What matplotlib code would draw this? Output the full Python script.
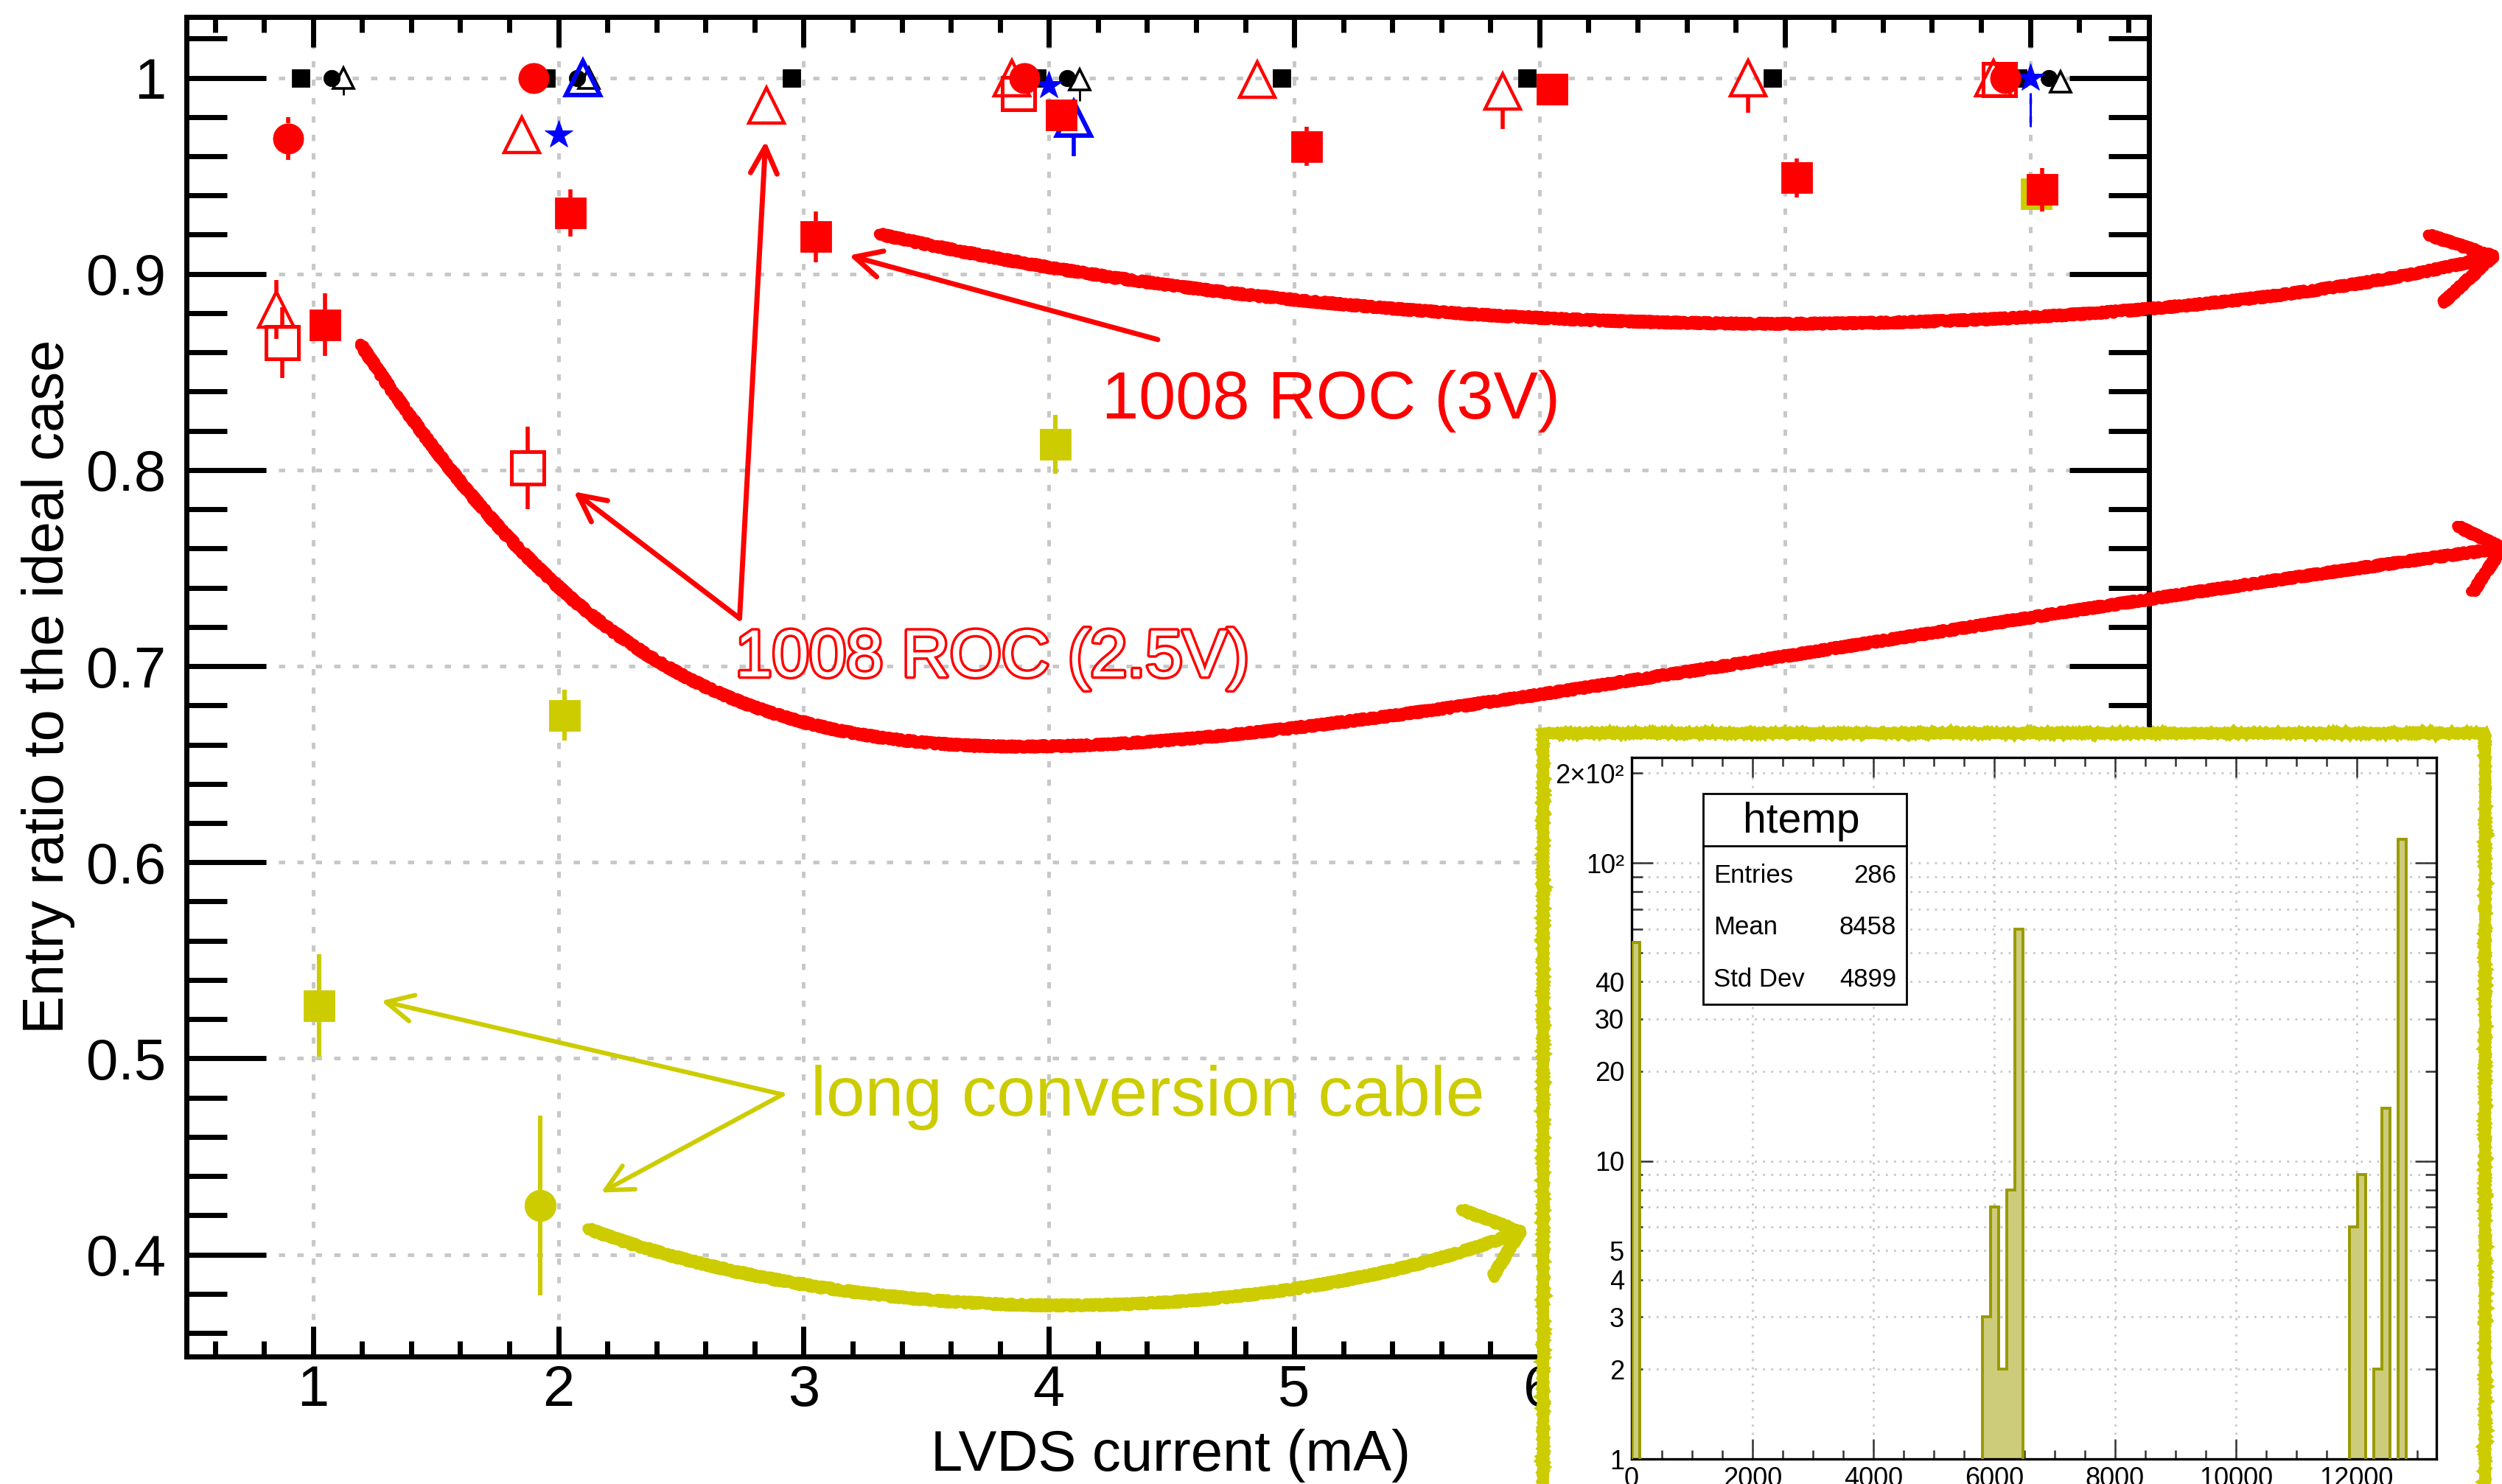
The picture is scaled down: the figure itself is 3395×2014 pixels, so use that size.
import matplotlib
matplotlib.use("Agg")
import matplotlib.pyplot as plt
import matplotlib.patheffects as pe
import numpy as np
from matplotlib.patches import Rectangle, PathPatch
from matplotlib.path import Path
from matplotlib.ticker import MultipleLocator, FixedLocator, FuncFormatter

plt.rcParams['font.family'] = ['Liberation Sans', 'DejaVu Sans']

# entry ratio to the ideal case vs LVDS current (mA); errors are (down, up)
# black: reference runs
ref_sq_x = [0.95, 1.95, 2.95, 3.95, 4.95, 5.95, 6.95, 7.95]
ref_sq_y = [1.0, 1.0, 1.0, 1.0, 1.0, 1.0, 1.0, 1.0]
ref_sq_lo = [0.003, 0.003, 0.003, 0.003, 0.003, 0.003, 0.003, 0.003]
ref_sq_hi = [0.0, 0.0, 0.0, 0.0, 0.0, 0.0, 0.0, 0.0]
ref_dot_x = [1.075, 2.075, 4.075, 8.075]
ref_dot_y = [1.0, 1.0, 1.0, 1.0]
ref_dot_lo = [0.0, 0.0, 0.0, 0.0]
ref_dot_hi = [0.0, 0.0, 0.0, 0.0]
ref_tri_x = [1.125, 2.125, 4.125, 8.125]
ref_tri_y = [1.0, 1.0, 0.999, 0.998]
ref_tri_lo = [0.009, 0.004, 0.011, 0.0]
ref_tri_hi = [0.0, 0.0, 0.0, 0.0]

# red: 1008 ROC
roc3_x = [1.05, 2.05, 3.05, 4.05, 5.05, 6.05, 7.05, 8.05]
roc3_y = [0.874, 0.931, 0.919, 0.981, 0.965, 0.994, 0.949, 0.943]
roc3_lo = [0.016, 0.012, 0.013, 0.006, 0.010, 0.003, 0.010, 0.011]
roc3_hi = [0.016, 0.012, 0.013, 0.006, 0.010, 0.003, 0.010, 0.011]
roc25_x = [0.875, 1.875, 3.875, 7.875]
roc25_y = [0.865, 0.801, 0.992, 0.999]
roc25_lo = [0.018, 0.021, 0.004, 0.003]
roc25_hi = [0.018, 0.021, 0.004, 0.001]
roc_tri_x = [0.85, 1.85, 2.85, 3.85, 4.85, 5.85, 6.85, 7.85]
roc_tri_y = [0.882, 0.971, 0.986, 1.0, 0.999, 0.993, 1.0, 1.0]
roc_tri_lo = [0.015, 0.0, 0.0, 0.0, 0.0, 0.019, 0.018, 0.0]
roc_tri_hi = [0.015, 0.0, 0.0, 0.0, 0.0, 0.005, 0.0, 0.0]
roc_dot_x = [0.9, 1.9, 3.9, 7.9]
roc_dot_y = [0.969, 1.0, 1.0, 1.0]
roc_dot_lo = [0.011, 0.003, 0.003, 0.003]
roc_dot_hi = [0.011, 0.0, 0.0, 0.0]

# blue
blue_star_x = [2.0, 4.0, 8.0]
blue_star_y = [0.971, 0.996, 1.0]
blue_star_lo = [0.007, 0.004, 0.025]
blue_star_hi = [0.007, 0.004, 0.0]
blue_tri_x = [2.1, 4.1]
blue_tri_y = [1.0, 0.979]
blue_tri_lo = [0.0, 0.019]
blue_tri_hi = [0.0, 0.008]

# yellow: long conversion cable
cable_sq_x = [1.025, 2.025, 4.025, 8.025]
cable_sq_y = [0.527, 0.675, 0.813, 0.941]
cable_sq_lo = [0.026, 0.013, 0.015, 0.006]
cable_sq_hi = [0.026, 0.013, 0.015, 0.006]
cable_dot_x = [1.925]
cable_dot_y = [0.425]
cable_dot_lo = [0.046]
cable_dot_hi = [0.046]

# inset histogram (htemp)
hist_nbins = 100
hist_bin_width = 135
hist_bins = [0, 43, 44, 45, 46, 47, 88, 89, 91, 92, 94]
hist_counts = [54, 3, 7, 2, 8, 60, 6, 9, 2, 15, 120]
stat_names = ['Entries', 'Mean', 'Std Dev']
stat_values = ['286', '8458', '4899']

RED = '#ff0000'
BLUE = '#0000ff'
YEL = '#cccc00'
W, H = 3395, 2014

fig = plt.figure(figsize=(W / 200, H / 200), dpi=200)
fig.patch.set_facecolor('white')
ax = fig.add_axes([253 / W, 1 - 1841 / H, 2663 / W, 1818 / H])
ax.set_xlim(0.484, 8.485)
ax.set_ylim(0.348, 1.031)

ax.xaxis.set_major_locator(MultipleLocator(1))
ax.xaxis.set_minor_locator(MultipleLocator(0.2))
ax.yaxis.set_major_locator(MultipleLocator(0.1))
ax.yaxis.set_minor_locator(MultipleLocator(0.02))
fmt = FuncFormatter(lambda v, p: f'{v:g}')
ax.xaxis.set_major_formatter(fmt)
ax.yaxis.set_major_formatter(fmt)
ax.tick_params(which='both', direction='in', top=True, right=True, width=2.5, labelsize=28)
ax.tick_params(axis='x', which='major', length=14.8, pad=3.5)
ax.tick_params(axis='x', which='minor', length=7.5)
ax.tick_params(axis='y', which='major', length=39, pad=10)
ax.tick_params(axis='y', which='minor', length=19.8)
for s in ax.spines.values():
    s.set_linewidth(2.5)
ax.set_axisbelow(True)
ax.grid(True, which='major', color='#c8c8c8', lw=1.8, ls=(0, (1.7, 3.3)))

ax_h = ax.get_window_extent().height
px_to_y = (ax.get_ylim()[1] - ax.get_ylim()[0]) / ax_h


def points(x, y, lo, hi, marker, ms, color, filled, mew, elw, z):
    # ROOT style: the error bar stops at the marker edge
    gap = ms / 2 * fig.dpi / 72 * px_to_y
    for xi, yi, el, eh in zip(x, y, lo, hi):
        if eh > gap:
            ax.vlines(xi, yi + gap, yi + eh, color=color, lw=elw, zorder=z)
        if el > gap:
            ax.vlines(xi, yi - el, yi - gap, color=color, lw=elw, zorder=z)
    ax.plot(x, y, ls='none', marker=marker, ms=ms, mec=color,
            mfc=color if filled else 'none', mew=mew, zorder=z)


points(ref_sq_x, ref_sq_y, ref_sq_lo, ref_sq_hi, 's', 8.3, 'black', True, 0.3, 1.0, 3)
points(ref_dot_x, ref_dot_y, ref_dot_lo, ref_dot_hi, 'o', 8, 'black', True, 0.3, 1.0, 3.1)
points(ref_tri_x, ref_tri_y, ref_tri_lo, ref_tri_hi, '^', 10, 'black', False, 1.3, 1.0, 3.2)
points(cable_sq_x, cable_sq_y, cable_sq_lo, cable_sq_hi, 's', 15, YEL, True, 0.3, 2.2, 4)
points(cable_dot_x, cable_dot_y, cable_dot_lo, cable_dot_hi, 'o', 15.3, YEL, True, 0.3, 2.2, 4)
points(blue_tri_x, blue_tri_y, blue_tri_lo, blue_tri_hi, '^', 16.5, BLUE, False, 2.2, 2.0, 5)
points(blue_star_x, blue_star_y, blue_star_lo, blue_star_hi, '*', 14.5, BLUE, True, 0.3, 1.1, 5.5)
points(roc_tri_x, roc_tri_y, roc_tri_lo, roc_tri_hi, '^', 17, RED, False, 1.6, 2.0, 6)
points(roc25_x, roc25_y, roc25_lo, roc25_hi, 's', 15.5, RED, False, 1.8, 2.0, 6.2)
points(roc_dot_x, roc_dot_y, roc_dot_lo, roc_dot_hi, 'o', 14.8, RED, True, 0.3, 2.0, 6.4)
points(roc3_x, roc3_y, roc3_lo, roc3_hi, 's', 15, RED, True, 0.3, 2.0, 6.6)


# straight annotation arrows
def arrow(head, tail, color, lw):
    ax.annotate('', xy=head, xytext=tail, zorder=8,
                arrowprops=dict(arrowstyle='->,head_length=1.3,head_width=0.65',
                                mutation_scale=10, color=color, lw=lw,
                                shrinkA=0, shrinkB=0))


arrow((3.185, 0.9094), (4.444, 0.8665), RED, 2.5)
arrow((2.845, 0.9677), (2.739, 0.7244), RED, 2.5)
arrow((2.063, 0.789), (2.739, 0.7244), RED, 2.5)
arrow((1.278, 0.5293), (2.914, 0.4816), YEL, 2.2)
arrow((2.174, 0.4316), (2.914, 0.4816), YEL, 2.2)

ax.text(4.215, 0.8263, '1008 ROC (3V)', color=RED, fontsize=32.5, ha='left', va='baseline', zorder=8)
ax.text(2.721, 0.6948, '1008 ROC (2.5V)', color='white', fontsize=32.5, ha='left', va='baseline', zorder=8,
        path_effects=[pe.withStroke(linewidth=2.5, foreground=RED)])
ax.text(3.030, 0.4707, 'long conversion cable', color=YEL, fontsize=34, ha='left', va='baseline', zorder=8)

# hand drawn strokes
C4 = Path.CURVE4


def rough(verts, codes, color):
    p = PathPatch(Path(verts, codes), facecolor='none', edgecolor=color, lw=5.2,
                  capstyle='round', joinstyle='round', clip_on=False, zorder=9)
    p.set_sketch_params(scale=2.5, length=6, randomness=4)
    ax.add_patch(p)


rough([(3.308, 0.9203), (5.437, 0.8594), (8.4445, 0.8632), (9.888, 0.909)],
      [Path.MOVETO, C4, C4, C4], RED)
rough([(9.623, 0.9199), (9.888, 0.909), (9.684, 0.8853)],
      [Path.MOVETO, Path.LINETO, Path.LINETO], RED)
rough([(1.1934, 0.8643), (2.0204, 0.7073), (2.6881, 0.6590), (3.8911, 0.6590),
       (5.1362, 0.6590), (6.9407, 0.7090), (9.924, 0.7602)],
      [Path.MOVETO, C4, C4, C4, C4, C4, C4], RED)
rough([(9.7419, 0.7714), (9.924, 0.7602), (9.805, 0.7376)],
      [Path.MOVETO, Path.LINETO, Path.LINETO], RED)
rough([(2.120, 0.4132), (3.182, 0.3632), (4.835, 0.3594), (5.921, 0.4117)],
      [Path.MOVETO, C4, C4, C4], YEL)
rough([(5.681, 0.4229), (5.921, 0.4117), (5.810, 0.3887)],
      [Path.MOVETO, Path.LINETO, Path.LINETO], YEL)

fig.text(1589 / W, 1 - 1996 / H, 'LVDS current (mA)', ha='center', va='baseline', fontsize=28)
fig.text(65.5 / W, 1 - 932 / H, 'Entry ratio to the ideal case', rotation=90,
         ha='center', va='center', fontsize=28)

# pasted histogram with a hand drawn yellow frame
cover = Rectangle((2094 / W, -0.03), (3372 - 2094) / W, 0.03 + 1 - 995 / H,
                  transform=fig.transFigure, facecolor='white', edgecolor=YEL, lw=5, zorder=1)
cover.set_sketch_params(scale=1.0, length=4, randomness=1.5)
fig.add_artist(cover)

ax2 = fig.add_axes([2214 / W, 1 - 1980 / H, 1092 / W, 952 / H])
ax2.set_zorder(2)
ax2.set_yscale('log', nonpositive='clip')
ax2.set_xlim(0, 13320)
ax2.set_ylim(1, 226)

counts = np.zeros(hist_nbins)
counts[hist_bins] = hist_counts
edges = np.arange(hist_nbins + 1) * hist_bin_width
ax2.stairs(counts, edges, baseline=0, fill=True, color='#cccc7a', zorder=2)
ax2.stairs(counts, edges, baseline=0, color='#999900', lw=1.4, zorder=3)

ax2.xaxis.set_major_locator(MultipleLocator(2000))
ax2.xaxis.set_minor_locator(MultipleLocator(500))
ax2.yaxis.set_major_locator(FixedLocator([1, 10, 100]))
ax2.yaxis.set_minor_locator(FixedLocator([2, 3, 4, 5, 6, 7, 8, 9, 20, 30, 40, 50, 60, 70, 80, 90, 200]))
major_lab = {1: '1', 10: '10', 100: '10²'}
minor_lab = {2: '2', 3: '3', 4: '4', 5: '5', 20: '20', 30: '30', 40: '40', 200: '2×10²'}
ax2.yaxis.set_major_formatter(FuncFormatter(lambda v, p: major_lab.get(int(round(v)), '')))
ax2.yaxis.set_minor_formatter(FuncFormatter(lambda v, p: minor_lab.get(int(round(v)), '')))
ax2.xaxis.set_major_formatter(FuncFormatter(lambda v, p: f'{v:g}'))
ax2.tick_params(which='both', direction='in', top=True, right=True, width=0.9,
                color='#333333', labelsize=13, pad=3.6)
ax2.tick_params(axis='x', which='major', length=9.7)
ax2.tick_params(axis='x', which='minor', length=4.3)
ax2.tick_params(axis='y', which='major', length=10.4)
ax2.tick_params(axis='y', which='minor', length=5.4, labelsize=13, pad=3.6)
for s in ax2.spines.values():
    s.set_linewidth(1.2)
ax2.grid(True, which='major', axis='x', color='#c8c8c8', lw=1.0, ls=(0, (1, 3)))
ax2.grid(True, which='both', axis='y', color='#c8c8c8', lw=1.0, ls=(0, (1, 3)))
ax2.set_axisbelow(True)

# stats box
ax2.add_patch(Rectangle((0.0885, 0.6483), 0.2534, 0.3007, transform=ax2.transAxes,
                        facecolor='white', edgecolor='black', lw=1.0, zorder=6))
ax2.plot([0.0885, 0.3419], [0.8735, 0.8735], transform=ax2.transAxes, color='black', lw=1.0, zorder=7)
ax2.text(0.2113, 0.8931, 'htemp', transform=ax2.transAxes, ha='center', va='baseline',
         fontsize=20.5, zorder=7)
for name, val, yb in zip(stat_names, stat_values, [0.8214, 0.7483, 0.6728]):
    ax2.text(0.1016, yb, name, transform=ax2.transAxes, ha='left', va='baseline', fontsize=12.5, zorder=7)
    ax2.text(0.3288, yb, val, transform=ax2.transAxes, ha='right', va='baseline', fontsize=12.5, zorder=7)

fig.savefig('out.png', dpi=200)
